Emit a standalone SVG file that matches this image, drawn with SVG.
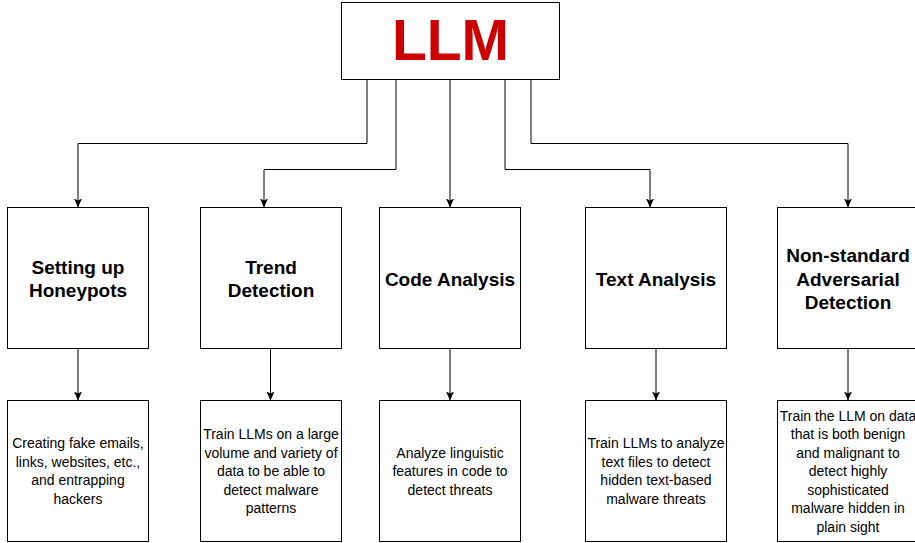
<svg xmlns="http://www.w3.org/2000/svg" width="915" height="543" viewBox="0 0 915 543">
<style>
.box{fill:#fff;stroke:#000;stroke-width:1}
.t{font-family:"Liberation Sans",Arial,sans-serif;font-weight:bold;font-size:19px;text-anchor:middle;fill:#000}
.b{font-family:"Liberation Sans",Arial,sans-serif;font-size:14px;text-anchor:middle;fill:#000}
.c{fill:none;stroke:#000;stroke-width:1}
</style>
<defs>
<marker id="arr" markerUnits="userSpaceOnUse" viewBox="0 0 9 8" refX="9" refY="4" markerWidth="9" markerHeight="8" orient="auto">
<path d="M0,0 L9,4 L0,8 L2,4 Z" fill="#000"/>
</marker>
</defs>
<rect width="915" height="543" fill="#fff"/>
<g id="connectors">
<path class="c" d="M367,79.5 V143.5 H78 V207.5" marker-end="url(#arr)"/>
<path class="c" d="M396,79.5 V169.5 H264 V207.5" marker-end="url(#arr)"/>
<path class="c" d="M450,79.5 V207.5" marker-end="url(#arr)"/>
<path class="c" d="M505,79.5 V169.5 H650 V207.5" marker-end="url(#arr)"/>
<path class="c" d="M531,79.5 V143.5 H848 V207.5" marker-end="url(#arr)"/>
<path class="c" d="M78,348.5 V400.5" marker-end="url(#arr)"/>
<path class="c" d="M270.5,348.5 V400.5" marker-end="url(#arr)"/>
<path class="c" d="M450,348.5 V400.5" marker-end="url(#arr)"/>
<path class="c" d="M656,348.5 V400.5" marker-end="url(#arr)"/>
<path class="c" d="M848,348.5 V400.5" marker-end="url(#arr)"/>
</g>
<g id="llm">
<rect class="box" x="341.5" y="2.5" width="218" height="77"/>
<text x="450.5" y="60" style="font-family:'Liberation Sans',Arial,sans-serif;font-weight:bold;font-size:57px;text-anchor:middle;fill:#CC0000">LLM</text>
</g>
<g id="honeypots">
<rect class="box" x="7.5" y="207.5" width="141" height="141"/>
<text class="t" x="78" y="274">Setting up</text>
<text class="t" x="78" y="297.4">Honeypots</text>
</g>
<g id="trend">
<rect class="box" x="200.5" y="207.5" width="141" height="141"/>
<text class="t" x="271" y="274">Trend</text>
<text class="t" x="271" y="297.4">Detection</text>
</g>
<g id="code">
<rect class="box" x="379.5" y="207.5" width="141" height="141"/>
<text class="t" x="450" y="285.7">Code Analysis</text>
</g>
<g id="text">
<rect class="box" x="585.5" y="207.5" width="141" height="141"/>
<text class="t" x="656" y="285.7">Text Analysis</text>
</g>
<g id="adversarial">
<rect class="box" x="777.5" y="207.5" width="141" height="141"/>
<text class="t" x="848" y="262.4">Non-standard</text>
<text class="t" x="848" y="285.7">Adversarial</text>
<text class="t" x="848" y="309">Detection</text>
</g>
<g id="honeypots-desc">
<rect class="box" x="7.5" y="400.5" width="141" height="141"/>
<text class="b" x="78" y="448.3">Creating fake emails,</text>
<text class="b" x="78" y="466.8">links, websites, etc.,</text>
<text class="b" x="78" y="485.3">and entrapping</text>
<text class="b" x="78" y="503.8">hackers</text>
</g>
<g id="trend-desc">
<rect class="box" x="200.5" y="400.5" width="141" height="141"/>
<text class="b" x="271" y="439">Train LLMs on a large</text>
<text class="b" x="271" y="457.5">volume and variety of</text>
<text class="b" x="271" y="476">data to be able to</text>
<text class="b" x="271" y="494.5">detect malware</text>
<text class="b" x="271" y="513">patterns</text>
</g>
<g id="code-desc">
<rect class="box" x="379.5" y="400.5" width="141" height="141"/>
<text class="b" x="450" y="457.5">Analyze linguistic</text>
<text class="b" x="450" y="476">features in code to</text>
<text class="b" x="450" y="494.5">detect threats</text>
</g>
<g id="text-desc">
<rect class="box" x="585.5" y="400.5" width="141" height="141"/>
<text class="b" x="656" y="448.3">Train LLMs to analyze</text>
<text class="b" x="656" y="466.8">text files to detect</text>
<text class="b" x="656" y="485.3">hidden text-based</text>
<text class="b" x="656" y="503.8">malware threats</text>
</g>
<g id="adversarial-desc">
<rect class="box" x="777.5" y="400.5" width="141" height="141"/>
<text class="b" x="848" y="420.5">Train the LLM on data</text>
<text class="b" x="848" y="439">that is both benign</text>
<text class="b" x="848" y="457.5">and malignant to</text>
<text class="b" x="848" y="476">detect highly</text>
<text class="b" x="848" y="494.5">sophisticated</text>
<text class="b" x="848" y="513">malware hidden in</text>
<text class="b" x="848" y="531.5">plain sight</text>
</g>
</svg>
